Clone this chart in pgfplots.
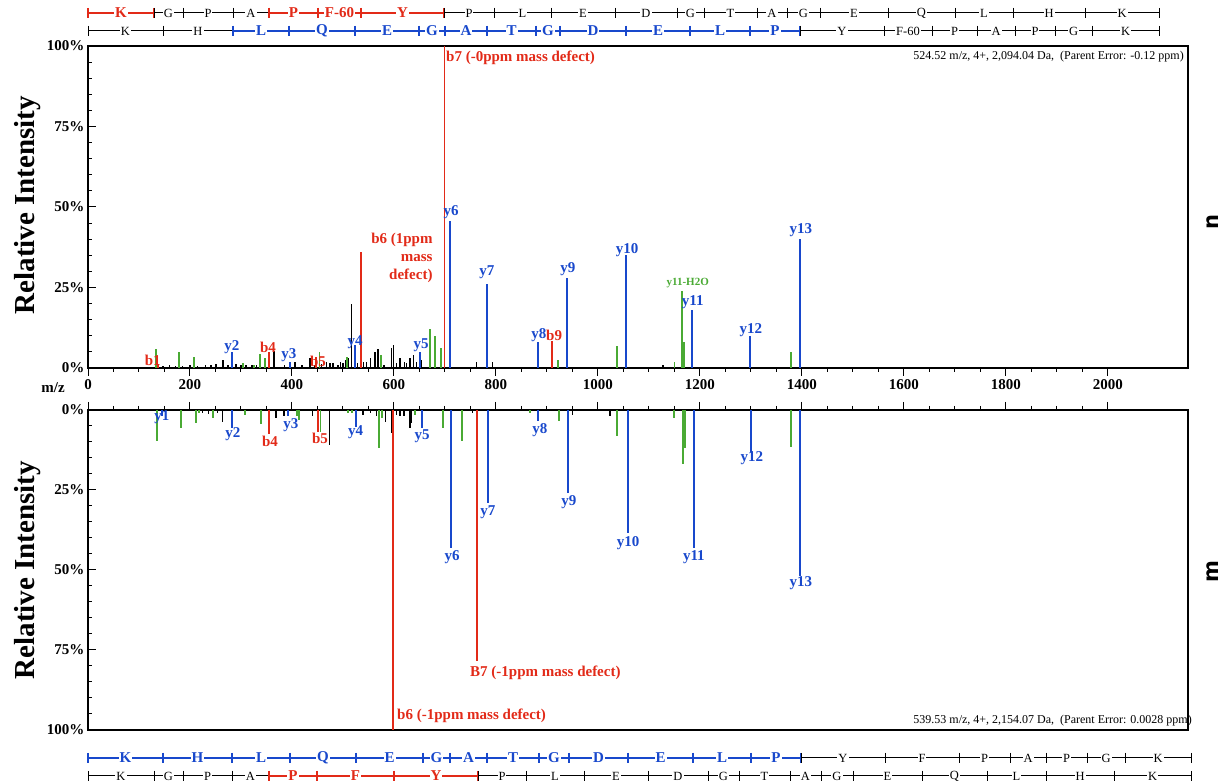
\documentclass[border=0pt]{standalone}
\usepackage{fontspec}
\setmainfont{Liberation Serif}
\newfontfamily\dejavu{DejaVu Sans}
\usepackage{pgfplots}
\pgfplotsset{compat=1.18}
\definecolor{cred}{RGB}{226,42,24}
\definecolor{cblue}{RGB}{24,72,204}
\definecolor{cgreen}{RGB}{74,170,52}
\newcommand{\bigb}{\fontsize{15}{18}\selectfont\bfseries}
\pgfplotsset{spec/.style={
  scale only axis, width=1100pt, xmin=0, xmax=2157, clip=false,
  axis line style={line width=1.2pt},
  every tick/.style={black, line width=1pt},
  major tick length=8pt, minor tick length=4pt,
  minor x tick num=3, minor y tick num=4,
  xtick={0,200,...,2000},
  ytick pos=left, ytick align=inside, xtick align=outside,
  /pgf/number format/assume math mode=true,
  tick label style={font=\bigb},
},
pk/.style={ycomb, mark=none, line width=1.9pt},
}
\tikzset{
 lt/.style={anchor=center, inner sep=0pt, font=\bigb},
 line r/.style={draw=cred, line width=1.3pt},
 line b/.style={draw=cblue, line width=1.3pt},
 line k/.style={draw=black, line width=1pt},
 let r/.style={text=cred, fill=white, inner sep=1pt, font=\bigb},
 let b/.style={text=cblue, fill=white, inner sep=1pt, font=\bigb},
 let k/.style={text=black, fill=white, inner sep=1pt, font=\fontsize{12.5}{14}\selectfont},
}
\begin{document}
\begin{tikzpicture}
\useasboundingbox (0pt,0pt) rectangle (1231pt,784pt);
% ---------- top panel
\begin{axis}[spec, at={(88pt,416pt)}, anchor=south west, height=322pt,
  ymin=0, ymax=100, ytick={0,25,50,75,100}, yticklabels={0\%,25\%,50\%,75\%,100\%},
  xtick pos=left,
  xticklabels={0,200,400,600,800,1000,1200,1400,1600,1800,2000}]
\addplot[pk, black, line width=1.5pt] coordinates {(147,0.5)(160,0.8)(172,0.5)(185,0.6)(200,0.8)(215,0.7)(230,1)(241,0.8)(251,1.2)(265,2.5)(275,1)(290,1.2)(300,0.8)(310,1)(322,1)(330,0.8)(365,5.3)(385,1)(395,1.5)(406,2)(420,1)(435,3)(445,0.8)(458,1.2)(468,2)(475,1.5)(480,1.5)(490,1)(495,2)(500,1.5)(505,2.5)(510,3)(517,20)(528,1.5)(540,2)(546,1.8)(554,3)(563,5)(569,6)(580,1)(595,6.3)(599,7)(605,1.5)(612,3)(621,2)(625,1.5)(631,3)(638,4)(644,2)(654,2.5)(762,2)(793,2)(1128,1)};
\addplot[pk, cgreen] coordinates {(133,6)(179,5)(208,3.5)(304,1.5)(325,1)(337,4.5)(347,3)(454,5)(507,3.5)(574,4)(671,12)(680,10)(693,6.3)(922,2.4)(1037,6.8)(1150,2)(1165,24)(1169,8)(1378,5)};
\addplot[pk, cred] coordinates {(137,1.2)(355,5)(447,3.5)(535,36)(699,100)(910,8.3)};
\addplot[pk, cblue] coordinates {(282,5)(396,2)(523,7)(651,5)(709,45.6)(782,26)(883,8)(939,28)(1055,35)(1185,18)(1298,10)(1396,40)};
\node[lt, text=cblue] at (axis cs:712,48.4) {y6};
\node[lt, text=cblue] at (axis cs:782,29.8) {y7};
\node[lt, text=cblue] at (axis cs:941,30.7) {y9};
\node[lt, text=cblue] at (axis cs:1057,36.6) {y10};
\node[lt, text=cblue] at (axis cs:1398,42.9) {y13};
\node[lt, text=cgreen, font=\fontsize{11}{13}\selectfont\bfseries] at (axis cs:1176,26.4) {y11-H2O};
\node[lt, text=cblue] at (axis cs:1186,20.5) {y11};
\node[lt, text=cblue] at (axis cs:1300,11.8) {y12};
\node[lt, text=cblue] at (axis cs:884,10.2) {y8};
\node[lt, text=cred] at (axis cs:914,10.2) {b9};
\node[lt, text=cblue] at (axis cs:653,7.1) {y5};
\node[lt, text=cblue] at (axis cs:524,8.1) {y4};
\node[lt, text=cblue] at (axis cs:282,6.5) {y2};
\node[lt, text=cred] at (axis cs:353,6.5) {b4};
\node[lt, text=cblue] at (axis cs:394,4) {y3};
\node[lt, text=cred] at (axis cs:451,2.2) {b5};
\node[lt, text=cred] at (axis cs:127,2.5) {b1};
\node[anchor=west, inner sep=0pt, text=cred, font=\bigb] at (axis cs:702,96.3) {b7 (-0ppm mass defect)};
\node[anchor=east, align=right, inner sep=0pt, text=cred, font=\bigb] at (axis cs:676,34.2) {b6 (1ppm\\mass\\defect)};
\node[anchor=north east, inner sep=0pt, font=\fontsize{12}{14}\selectfont] at (rel axis cs:1,1) [xshift=-4pt, yshift=-5pt] {524.52 m/z, 4+, 2,094.04 Da,\ \ (Parent Error: -0.12 ppm)};
\end{axis}
% ---------- bottom panel
\begin{axis}[spec, at={(88pt,54pt)}, anchor=south west, height=320pt,
  ymin=-100, ymax=0, ytick={-100,-75,-50,-25,0}, yticklabels={100\%,75\%,50\%,25\%,0\%},
  xtick pos=right, xticklabels={}]
\addplot[pk, black, line width=1.5pt] coordinates {(225,-1)(236,-1.2)(253.6,-1)(264,-3.7)(368.6,-2.6)(384,-2)(440.5,-2)(473.2,-10.8)(539,-1.5)(554,-1)(566,-2)(583,-3.7)(595.5,-7.3)(605,-1.5)(612,-2)(620,-2)(631,-5.5)(634,-4)(754,-1)(950,-1.5)(1024,-2)};
\addplot[pk, cgreen] coordinates {(134.6,-9.7)(181.7,-5.5)(211,-4.2)(217,-1)(245.8,-2.6)(308,-1.5)(340,-4.5)(409,-2)(414,-3)(456,-6.8)(510,-1)(517,-1)(570.6,-11.8)(577,-2.6)(641,-1.5)(695.4,-5.5)(732.7,-9.7)(867,-1)(924,-3.3)(1038,-8)(1149,-2.5)(1167,-17)(1170,-12)(1378,-11.5)};
\addplot[pk, cred] coordinates {(355.5,-7.6)(451.6,-6.8)(598.7,-100)(762,-78.5)};
\addplot[pk, cblue] coordinates {(145,-2)(283,-5.5)(393,-2)(525,-5.2)(655,-5.5)(711,-43)(785,-29)(882,-3.5)(941,-26)(1059,-38.5)(1188,-43)(1300,-13)(1396,-52)};
\node[lt, text=cblue] at (axis cs:145,-2.2) {y1};
\node[lt, text=cblue] at (axis cs:284,-7.5) {y2};
\node[lt, text=cred] at (axis cs:357,-9.7) {b4};
\node[lt, text=cblue] at (axis cs:398,-4.7) {y3};
\node[lt, text=cred] at (axis cs:455,-8.75) {b5};
\node[lt, text=cblue] at (axis cs:525,-6.9) {y4};
\node[lt, text=cblue] at (axis cs:655,-8.1) {y5};
\node[lt, text=cblue] at (axis cs:886,-6.25) {y8};
\node[lt, text=cblue] at (axis cs:714,-45.9) {y6};
\node[lt, text=cblue] at (axis cs:784,-31.9) {y7};
\node[lt, text=cblue] at (axis cs:943,-28.75) {y9};
\node[lt, text=cblue] at (axis cs:1059,-41.6) {y10};
\node[lt, text=cblue] at (axis cs:1188,-45.9) {y11};
\node[lt, text=cblue] at (axis cs:1302,-15) {y12};
\node[lt, text=cblue] at (axis cs:1398,-54) {y13};
\node[anchor=west, inner sep=0pt, text=cred, font=\bigb] at (axis cs:749,-82.2) {B7 (-1ppm mass defect)};
\node[anchor=west, inner sep=0pt, text=cred, font=\bigb] at (axis cs:606,-95.6) {b6 (-1ppm mass defect)};
\node[anchor=south east, inner sep=0pt, font=\fontsize{12}{14}\selectfont] at (rel axis cs:1,0) [xshift=4pt, yshift=4pt] {539.53 m/z, 4+, 2,154.07 Da,\ \ (Parent Error: 0.0028 ppm)};
\end{axis}
% ---------- decorations in image coordinates (y downward)
\begin{scope}[shift={(0pt,784pt)}, x=1pt, y=-1pt]
\node[rotate=90, font=\fontsize{29}{32}\selectfont\bfseries] at (28,205) {Relative Intensity};
\node[rotate=90, font=\fontsize{29}{32}\selectfont\bfseries] at (28,570) {Relative Intensity};
\node[font=\bigb] at (53,388) {m/z};
\node[rotate=90, font=\dejavu\fontsize{21}{21}\selectfont\bfseries] at (1213,222) {n};
\node[rotate=90, font=\dejavu\fontsize{21}{21}\selectfont\bfseries] at (1213,572) {m};
% row 1
\def\yy{13}
\foreach \a/\b/\l/\c in {88/154/K/r,154/183/G/k,183/233/P/k,233/269/A/k,269/318/P/r,318/361/F-60/r,361/444/Y/r,444/494/P/k,494/551/L/k,551/615/E/k,615/677/D/k,677/704/G/k,704/757/T/k,757/787/A/k,787/820/G/k,820/888/E/k,888/955/Q/k,955/1013/L/k,1013/1085/H/k,1085/1159/K/k}{
  \draw[line \c] (\a,\yy) -- (\b,\yy) (\a,\yy-5) -- (\a,\yy+5) (\b,\yy-5) -- (\b,\yy+5);
  \node[let \c] at ({(\a+\b)/2},\yy) {\l};}
% row 2
\def\yy{31}
\foreach \a/\b/\l/\c in {88/163/K/k,163/233/H/k,233/289/L/b,289/355/Q/b,355/419/E/b,419/445/G/b,445/487/A/b,487/536/T/b,536/560/G/b,560/626/D/b,626/690/E/b,690/750/L/b,750/800/P/b,800/884/Y/k,884/932/F-60/k,932/977/P/k,977/1015/A/k,1015/1055/P/k,1055/1092/G/k,1092/1159/K/k}{
  \draw[line \c] (\a,\yy) -- (\b,\yy) (\a,\yy-5) -- (\a,\yy+5) (\b,\yy-5) -- (\b,\yy+5);
  \node[let \c] at ({(\a+\b)/2},\yy) {\l};}
% row B1
\def\yy{758}
\foreach \a/\b/\l/\c in {88/163/K/b,163/232/H/b,232/290/L/b,290/356/Q/b,356/423/E/b,423/450/G/b,450/487/A/b,487/539/T/b,539/569/G/b,569/628/D/b,628/693/E/b,693/751/L/b,751/801/P/b,801/885/Y/k,885/959/F/k,959/1010/P/k,1010/1046/A/k,1046/1087/P/k,1087/1125/G/k,1125/1191/K/k}{
  \draw[line \c] (\a,\yy) -- (\b,\yy) (\a,\yy-5) -- (\a,\yy+5) (\b,\yy-5) -- (\b,\yy+5);
  \node[let \c] at ({(\a+\b)/2},\yy) {\l};}
% row B2
\def\yy{776}
\foreach \a/\b/\l/\c in {88/154/K/k,154/183/G/k,183/232/P/k,232/269/A/k,269/317/P/r,317/394/F/r,394/478/Y/r,478/526/P/k,526/584/L/k,584/648/E/k,648/708/D/k,708/739/G/k,739/790/T/k,790/821/A/k,821/853/G/k,853/922/E/k,922/987/Q/k,987/1046/L/k,1046/1114/H/k,1114/1191/K/k}{
  \draw[line \c] (\a,\yy) -- (\b,\yy) (\a,\yy-5) -- (\a,\yy+5) (\b,\yy-5) -- (\b,\yy+5);
  \node[let \c] at ({(\a+\b)/2},\yy) {\l};}
\end{scope}
\end{tikzpicture}
\end{document}
